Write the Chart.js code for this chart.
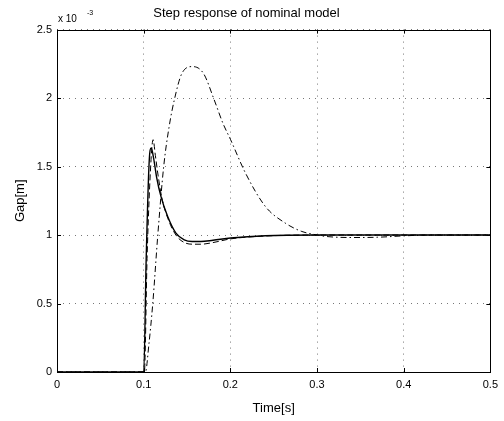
<!DOCTYPE html>
<html>
<head>
<meta charset="utf-8">
<script src="https://cdn.jsdelivr.net/npm/chart.js@4/dist/chart.umd.min.js"></script>
<style>
  html, body { margin: 0; padding: 0; background: #fff; }
  #wrap { width: 504px; height: 421px; }
</style>
</head>
<body>
<div id="wrap"><canvas id="stepChart" width="504" height="421"></canvas></div>
<script>
  // Gap values are in units of 1e-3 m (axis shows "x 10^-3")
  const xTicks = [0, 0.1, 0.2, 0.3, 0.4, 0.5];
  const yTicks = [0, 0.5, 1, 1.5, 2, 2.5];

  // solid line
  const timeSolid = [0, 0.1, 0.1001, 0.1028, 0.1063, 0.1087, 0.1115, 0.115, 0.120, 0.1277, 0.1372, 0.1468, 0.156, 0.166, 0.18, 0.2003, 0.2405, 0.30, 0.4, 0.5];
  const gapSolid  = [0, 0, 0, 0.8, 1.53, 1.635, 1.56, 1.42, 1.28, 1.135, 1.014, 0.965, 0.953, 0.953, 0.962, 0.978, 0.995, 1.0, 1.0, 1.0];

  // dashed line
  const timeDashed = [0, 0.1, 0.1008, 0.104, 0.1085, 0.1109, 0.1135, 0.117, 0.121, 0.128, 0.1372, 0.147, 0.158, 0.166, 0.18, 0.2003, 0.2405, 0.30, 0.4, 0.5];
  const gapDashed  = [0, 0, 0, 0.85, 1.55, 1.696, 1.58, 1.42, 1.27, 1.12, 1.0, 0.945, 0.933, 0.933, 0.945, 0.972, 0.993, 1.0, 1.0, 1.0];

  // dash-dot line
  const timeDashDot = [0, 0.1, 0.102, 0.106, 0.1105, 0.1163, 0.1231, 0.1296, 0.1353, 0.1441, 0.1564, 0.169, 0.1812, 0.1915, 0.2003, 0.2175, 0.2405, 0.2634, 0.2825, 0.2978, 0.31, 0.34, 0.37, 0.40, 0.43, 0.5];
  const gapDashDot  = [0, 0, 0, 0.2, 0.5, 1.0, 1.5, 1.8, 1.985, 2.18, 2.23, 2.18, 1.99, 1.815, 1.696, 1.452, 1.208, 1.087, 1.026, 1.003, 0.99, 0.982, 0.984, 0.994, 1.0, 1.0];

  function toPoints(xs, ys) {
    return xs.map(function(x, i) { return { x: x, y: ys[i] }; });
  }

  // frame, inside ticks and the "x 10^-3" multiplier
  const matlabAxes = {
    id: 'matlabAxes',
    afterDraw: function(chart) {
      const ctx = chart.ctx;
      const a = chart.chartArea;
      const xs = chart.scales.x, ys = chart.scales.y;
      ctx.save();
      ctx.strokeStyle = '#000';
      ctx.lineWidth = 1;
      ctx.strokeRect(Math.round(a.left) + 0.5, Math.round(a.top) + 0.5,
                     Math.round(a.right - a.left), Math.round(a.bottom - a.top));
      ctx.beginPath();
      xTicks.forEach(function(v) {
        const px = Math.round(xs.getPixelForValue(v)) + 0.5;
        ctx.moveTo(px, a.bottom); ctx.lineTo(px, a.bottom - 4);
        ctx.moveTo(px, a.top); ctx.lineTo(px, a.top + 4);
      });
      yTicks.forEach(function(v) {
        const py = Math.round(ys.getPixelForValue(v)) + 0.5;
        ctx.moveTo(a.left, py); ctx.lineTo(a.left + 4, py);
        ctx.moveTo(a.right, py); ctx.lineTo(a.right - 4, py);
      });
      ctx.stroke();
      ctx.fillStyle = '#000';
      ctx.textBaseline = 'alphabetic';
      ctx.font = '10px "Liberation Sans", Arial, sans-serif';
      ctx.fillText('x 10', a.left + 1, a.top - 8);
      ctx.font = '7px "Liberation Sans", Arial, sans-serif';
      ctx.fillText('-3', a.left + 30, a.top - 15);
      ctx.restore();
    }
  };

  const stepConfig = {
    type: 'line',
    data: {
      datasets: [{
        label: 'solid',
        data: toPoints(timeSolid, gapSolid),
        borderColor: '#000',
        borderWidth: 1.4
      }, {
        label: 'dashed',
        data: toPoints(timeDashed, gapDashed),
        borderColor: '#000',
        borderWidth: 1,
        borderDash: [6, 3]
      }, {
        label: 'dash-dot',
        data: toPoints(timeDashDot, gapDashDot),
        borderColor: '#000',
        borderWidth: 1,
        borderDash: [6, 3, 1.5, 3]
      }]
    },
    options: {
      responsive: false,
      animation: false,
      elements: {
        point: { radius: 0 },
        line: { cubicInterpolationMode: 'monotone', fill: false }
      },
      layout: { padding: { left: 0, right: 11, top: 0, bottom: 0 } },
      plugins: {
        legend: { display: false },
        tooltip: { enabled: false },
        title: {
          display: true,
          text: 'Step response of nominal model',
          color: '#000',
          font: { family: '"Liberation Sans", Arial, sans-serif', size: 13, weight: 'normal' },
          padding: { top: 6, bottom: 8 }
        }
      },
      scales: {
        x: {
          type: 'linear',
          min: 0, max: 0.5,
          afterBuildTicks: function(scale) { scale.ticks = xTicks.map(function(v) { return { value: v }; }); },
          afterFit: function(scale) { scale.height = 49; },
          grid: { color: '#777', lineWidth: 1, drawTicks: false },
          border: { display: false, dash: [1, 5] },
          ticks: {
            color: '#000', padding: 6,
            font: { family: '"Liberation Sans", Arial, sans-serif', size: 11 },
            callback: function(v) { return String(v); }
          },
          title: {
            display: true, text: 'Time[s]', color: '#000',
            font: { family: '"Liberation Sans", Arial, sans-serif', size: 13 },
            padding: { top: 0, bottom: 5 }
          }
        },
        y: {
          type: 'linear',
          min: 0, max: 2.5,
          afterBuildTicks: function(scale) { scale.ticks = yTicks.map(function(v) { return { value: v }; }); },
          afterFit: function(scale) { scale.width = 57; },
          grid: { color: '#777', lineWidth: 1, drawTicks: false },
          border: { display: false, dash: [1, 5] },
          ticks: {
            color: '#000', padding: 5,
            font: { family: '"Liberation Sans", Arial, sans-serif', size: 11 },
            callback: function(v) { return String(v); }
          },
          title: {
            display: true, text: 'Gap[m]', color: '#000',
            font: { family: '"Liberation Sans", Arial, sans-serif', size: 13 },
            padding: { top: 13, bottom: 0 }
          }
        }
      }
    },
    plugins: [matlabAxes]
  };

  const ctx = document.getElementById('stepChart').getContext('2d');
  new Chart(ctx, stepConfig);
</script>
</body>
</html>
